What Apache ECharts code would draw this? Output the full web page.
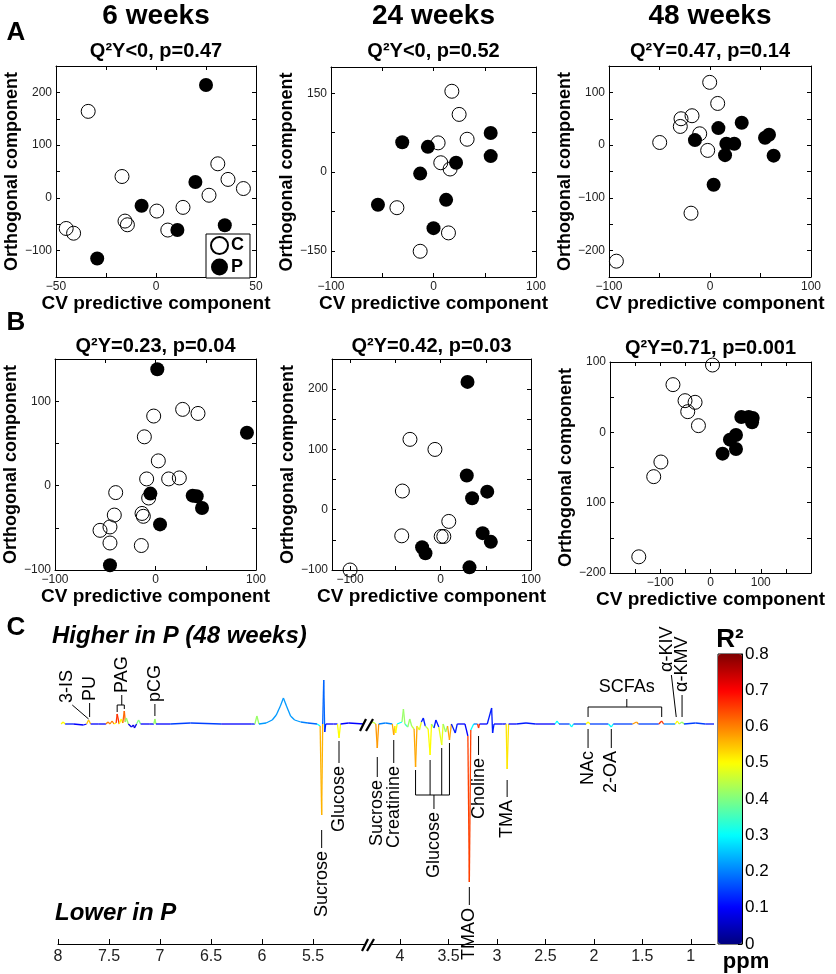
<!DOCTYPE html>
<html>
<head>
<meta charset="utf-8">
<script src="https://cdn.jsdelivr.net/npm/echarts@6/dist/echarts.min.js"></script>
<style>
html, body { margin: 0; padding: 0; background: #fff; }
#main { width: 836px; height: 974px; }
</style>
</head>
<body>
<div id="main"></div>
<script>
var FONT = '"Liberation Sans", Arial, Helvetica, sans-serif';

// ---- panel A/B scores: [CV predictive, orthogonal] ----
var a6C = [[-33.9,164],[-17,40.5],[-15.5,-44],[-14.3,-51],[-44.9,-58],[-41.2,-67],[0.4,-25],[13.5,-18],[5.9,-61],[30.9,64.6],[36,35],[43.7,17.7],[26.5,5]];
var a6P = [[25,214],[19.7,30],[-7.2,-15],[10.7,-61],[34.4,-52],[-29.4,-115]];
var a24C = [[17.9,153.8],[25,109.7],[32.8,62.4],[4.5,55.5],[7.1,17.6],[16.2,5.7],[-35.7,-68],[14.6,-116],[-13,-151]];
var a24P = [[55.8,74.4],[55.8,30.3],[-30.5,56.7],[-5.5,47.9],[22,17.6],[-13,-3],[-54.2,-62.4],[12.3,-53],[0,-107]];
var a48C = [[-0.3,119],[7.6,79],[-17.8,55.7],[-28.7,50],[-29.4,35.4],[-10.2,21.5],[-49.8,5],[-2.3,-10],[-18.8,-129],[-92.7,-220]];
var a48P = [[31.4,42.4],[8.3,32.3],[-14.9,9.5],[16.2,2.5],[24,2.5],[54.5,14],[58.4,19.6],[63,-20],[14.9,-19],[3.6,-75]];
var b6C = [[27,90.3],[42.3,85.5],[-1.8,82.4],[-11.1,57.8],[2.8,29.3],[-8.8,7.9],[13.1,7.9],[23.7,9.1],[-39.6,-8.3],[-6.8,-14.7],[-13.4,-33],[-12.1,-36.4],[-41,-34.9],[-55.2,-53],[-45.3,-49],[-45.3,-68],[-14.1,-71]];
var b6P = [[1.8,137.8],[91,62.6],[-5.1,-9.5],[37,-11.9],[41,-12.7],[46.3,-26.5],[4.5,-46],[-45.3,-94.3]];
var b24C = [[-33.8,116.7],[-6.2,100],[-42.2,31],[9.1,-19.4],[-42.9,-43.3],[0.7,-44.4],[3.6,-44.4],[-100,-100]];
var b24P = [[29.8,212],[29,56.7],[51.6,30],[34.9,18.9],[46.5,-38.9],[55.6,-53.3],[-20.4,-62.2],[-16.7,-72.2],[32,-95.6]];
var b48C = [[4,95.7],[-74.7,67.8],[-50.7,45],[-30.7,42.7],[-45.3,29.4],[-24,9.5],[-98.7,-42.2],[-113,-63],[-142.7,-177]];
var b48P = [[61.3,21.8],[76,21.8],[84,20.4],[82.7,14.2],[50.7,-3.8],[38.7,-10.4],[50.7,-23.7],[24,-30.3]];

var weekTitles = ['6 weeks', '24 weeks', '48 weeks'];
var subTitles = ['Q\u00b2Y<0, p=0.47', 'Q\u00b2Y<0, p=0.52', 'Q\u00b2Y=0.47, p=0.14',
                 'Q\u00b2Y=0.23, p=0.04', 'Q\u00b2Y=0.42, p=0.03', 'Q\u00b2Y=0.71, p=0.001'];

// axis limits / tick values per panel
var xLims = [[-50,50],[-100,100],[-100,100],[-100,100],[-120,100],[-200,200]];
var xLabels = [[-50,0,50],[-100,0,100],[-100,0,100],[-100,0,100],[-100,0,100],[-100,0,100]];
var xTicks = [[-50,-25,0,25,50],[-100,-50,0,50,100],[-100,-50,0,50,100],[-100,-50,0,50,100],[-100,-50,0,50,100],[-200,-150,-100,-50,0,50,100,150,200]];
var yLims = [[-150,250],[-200,200],[-250,150],[-100,150],[-100,250],[-200,100]];
var yLabels = [[-100,0,100,200],[-150,0,150],[-200,-100,0,100],[-100,0,100],[-100,0,100,200],[-200,-100,0,100]];
var yTicks = [[-150,-100,-50,0,50,100,150,200,250],[-150,-75,0,75,150],[-250,-200,-150,-100,-50,0,50,100,150],
              [-100,-50,0,50,100,150],[-100,-50,0,50,100,150,200,250],[-200,-150,-100,-50,0,50,100]];

// ---- panel C: spectrum points [ppm, intensity, R2] ----
var specLeft = [
  [7.97,0,0.12],[7.95,2,0.5],[7.93,0,0.15],[7.85,0,0.12],[7.75,-1,0.1],[7.72,0,0.15],[7.70,4,0.55],[7.68,0,0.2],
  [7.60,0,0.1],[7.53,0,0.2],[7.51,2,0.6],[7.49,0,0.3],[7.47,3,0.6],[7.45,0,0.3],[7.43,1,0.5],[7.42,10,0.66],
  [7.40,0,0.4],[7.38,5,0.5],[7.365,1,0.3],[7.35,13,0.62],[7.34,2,0.45],[7.33,6,0.42],[7.31,0,0.2],[7.28,-3,0.08],
  [7.26,-1,0.1],[7.25,-4,0.08],[7.23,0,0.15],[7.21,4,0.4],[7.19,0,0.2],[7.10,0,0.1],[7.06,0,0.2],[7.05,5,0.42],
  [7.04,0,0.2],[6.90,0,0.1],[6.70,1,0.15],[6.40,0,0.1],[6.10,0,0.12],[6.07,0,0.3],[6.05,8,0.42],[6.03,0,0.3],
  [5.96,1,0.22],[5.90,4,0.22],[5.86,9,0.22],[5.82,18,0.22],[5.79,26,0.22],[5.76,18,0.22],[5.72,8,0.22],[5.68,4,0.22],
  [5.62,2,0.2],[5.55,1,0.18],[5.46,0,0.15],[5.43,-2,0.3],[5.415,-91,0.56],[5.405,0,0.3],[5.395,44,0.18],[5.385,-8,0.12],
  [5.375,0,0.1],[5.30,0,0.1],[5.26,0,0.2],[5.245,-14,0.5],[5.23,0,0.2],[5.15,1,0.1],[5.00,0,0.1]
];
var specRight = [
  [4.31,0,0.15],[4.28,2,0.45],[4.25,0,0.2],[4.235,-24,0.58],[4.22,0,0.3],[4.15,1,0.2],[4.08,0,0.2],[4.065,-11,0.57],
  [4.055,-2,0.3],[4.045,-9,0.5],[4.03,0,0.2],[3.98,2,0.3],[3.965,15,0.42],[3.95,0,0.3],[3.92,-3,0.35],[3.90,5,0.42],
  [3.88,-2,0.4],[3.855,-5,0.45],[3.84,-43,0.57],[3.825,-2,0.4],[3.80,-6,0.48],[3.78,2,0.15],[3.76,6,0.12],[3.74,-2,0.3],
  [3.71,-5,0.45],[3.69,-31,0.5],[3.675,0,0.3],[3.65,-4,0.4],[3.63,4,0.12],[3.60,-3,0.42],[3.57,-21,0.48],[3.555,0,0.3],
  [3.53,-8,0.42],[3.51,-2,0.3],[3.49,-16,0.57],[3.47,0,0.2],[3.43,-9,0.12],[3.41,0,0.1],[3.33,0,0.1],[3.30,-12,0.1],
  [3.285,-158,0.65],[3.27,-6,0.3],[3.24,0,0.2],[3.20,0,0.3],[3.19,-4,0.66],[3.18,0,0.3],[3.10,0,0.1],[3.055,16,0.12],
  [3.045,-9,0.12],[3.03,0,0.1],[2.94,0,0.1],[2.905,0,0.3],[2.895,-45,0.52],[2.88,0,0.3],[2.80,0,0.1],[2.70,1,0.12],
  [2.60,0,0.1],[2.40,0,0.15],[2.38,3,0.3],[2.36,0,0.15],[2.25,0,0.15],[2.23,-3,0.3],[2.21,0,0.15],[2.08,0,0.2],
  [2.06,2,0.5],[2.04,0,0.2],[1.85,0,0.15],[1.82,-3,0.3],[1.80,0,0.15],[1.60,0,0.15],[1.56,2,0.58],[1.54,0,0.15],
  [1.33,0,0.2],[1.30,3,0.66],[1.28,0,0.2],[1.16,0,0.2],[1.14,3,0.5],[1.12,0,0.3],[1.09,2,0.42],[1.07,0,0.2],
  [0.95,1,0.15],[0.85,0,0.12],[0.76,0,0.12]
];
var ppmLeftTicks = [8, 7.5, 7, 6.5, 6, 5.5];
var ppmRightTicks = [4, 3.5, 3, 2.5, 2, 1.5, 1];
var r2Ticks = [0, 0.1, 0.2, 0.3, 0.4, 0.5, 0.6, 0.7, 0.8];

// metabolite annotations [ppm, intensity anchor, text, direction]
var labelsLeft = [
  [7.91,21,'3-IS','up'],[7.69,23,'PU','up'],[7.37,31,'PAG','up'],[7.05,22,'pCG','up'],
  [5.415,-127,'Sucrose','down'],[5.245,-42,'Glucose','down']
];
var labelsRight = [
  [4.235,-56,'Sucrose','down'],[4.065,-42,'Creatinine','down'],[3.65,-88,'Glucose','down'],
  [3.285,-184,'TMAO','down'],[3.19,-34,'Choline','down'],[2.895,-76,'TMA','down'],
  [2.06,-27,'NAc','down'],[1.82,-27,'2-OA','down'],[1.66,37,'SCFAs','flat'],
  [1.25,52,'\u03b1-KIV','up'],[1.09,32,'\u03b1-KMV','up']
];
// leader lines [ppm1, y1, ppm2, y2]
var leadersLeft = [
  [7.86,19,7.70,5],[7.69,21,7.69,7],
  [7.42,12,7.42,19],[7.42,19,7.35,19],[7.35,19,7.35,15],[7.375,19,7.375,29],
  [7.05,20,7.05,8],[5.415,-106,5.415,-124],[5.245,-17,5.245,-39]
];
var leadersRight = [
  [4.235,-33,4.235,-53],[4.065,-16,4.065,-39],
  [3.84,-46,3.84,-71],[3.69,-36,3.69,-71],[3.57,-24,3.57,-71],[3.49,-19,3.49,-71],[3.84,-71,3.49,-71],[3.65,-71,3.65,-85],
  [3.285,-163,3.285,-181],[3.19,-12,3.19,-31],[2.895,-56,2.895,-73],
  [2.06,-5,2.06,-24],[1.82,-5,1.82,-24],
  [2.06,7,2.06,17],[2.06,17,1.30,17],[1.30,17,1.30,7],[1.66,17,1.66,25],
  [1.20,49,1.15,7],[1.09,29,1.09,7]
];

var JET = ['#00007F','#0000FF','#0080FF','#00FFFF','#80FF80','#FFFF00','#FF8000','#FF0000','#7F0000'];

var boxes = [[56,66,200,211],[331,67,205,210],[609,66,202,211],[55,359,201,211],[332,359,199,211],[610,362,201,211]];
var cData = [a6C, a24C, a48C, b6C, b24C, b48C];
var pData = [a6P, a24P, a48P, b6P, b24P, b48P];

function minus(v) { return String(v).replace('-', '\u2212'); }

function toSegments(pts) {
  var out = [];
  for (var i = 0; i < pts.length - 1; i++) {
    var a = pts[i], b = pts[i + 1], r;
    if (Math.abs(a[1]) > Math.abs(b[1])) r = a[2];
    else if (Math.abs(b[1]) > Math.abs(a[1])) r = b[2];
    else r = Math.min(a[2], b[2]);
    out.push([a[0], a[1], b[0], b[1], r]);
  }
  return out;
}

function segRender(colored) {
  return function (params, api) {
    var p1 = api.coord([api.value(0), api.value(1)]);
    var p2 = api.coord([api.value(2), api.value(3)]);
    return {
      type: 'line',
      shape: { x1: p1[0], y1: p1[1], x2: p2[0], y2: p2[1] },
      style: { stroke: colored ? api.visual('color') : '#000', lineWidth: colored ? 1.3 : 1 }
    };
  };
}

function labelRender(list) {
  return function (params, api) {
    var l = list[params.dataIndex];
    var pt = api.coord([api.value(0), api.value(1)]);
    return {
      type: 'text', x: pt[0], y: pt[1],
      rotation: l[3] === 'flat' ? 0 : Math.PI / 2,
      style: {
        text: l[2], fill: '#000', font: '18px ' + FONT,
        align: l[3] === 'up' ? 'left' : (l[3] === 'down' ? 'right' : 'center'),
        verticalAlign: 'middle'
      }
    };
  };
}

var grids = [], xAxes = [], yAxes = [], series = [], graphics = [];
var tickStyle = { show: true, inside: true, length: 4, lineStyle: { color: '#000' } };
var lineStyle = { show: true, onZero: false, lineStyle: { color: '#000', width: 1 } };

boxes.forEach(function (b, i) {
  grids.push({ left: b[0], top: b[1], width: b[2], height: b[3] });
  xAxes.push({
    gridIndex: i, type: 'value', position: 'bottom', min: xLims[i][0], max: xLims[i][1],
    axisLine: lineStyle, splitLine: { show: false },
    axisTick: Object.assign({}, tickStyle, { customValues: xTicks[i] }),
    axisLabel: { customValues: xLabels[i], formatter: minus, fontSize: 12, color: '#222', margin: 4 },
    name: 'CV predictive component', nameLocation: 'middle', nameGap: 16,
    nameTextStyle: { fontSize: 19, fontWeight: 'bold', color: '#000' }
  });
  xAxes.push({
    gridIndex: i, type: 'value', position: 'top', min: xLims[i][0], max: xLims[i][1],
    axisLine: lineStyle, splitLine: { show: false },
    axisTick: Object.assign({}, tickStyle, { customValues: xTicks[i] }),
    axisLabel: { show: false }
  });
  yAxes.push({
    gridIndex: i, type: 'value', position: 'left', min: yLims[i][0], max: yLims[i][1],
    axisLine: lineStyle, splitLine: { show: false },
    axisTick: Object.assign({}, tickStyle, { customValues: yTicks[i] }),
    axisLabel: {
      customValues: yLabels[i], fontSize: 12, color: '#222', margin: 4,
      formatter: i === 5 ? function (v) { return v === -100 ? '100' : minus(v); } : minus
    },
    name: 'Orthogonal component', nameLocation: 'middle', nameGap: 33,
    nameTextStyle: { fontSize: 18, fontWeight: 'bold', color: '#000' }
  });
  yAxes.push({
    gridIndex: i, type: 'value', position: 'right', min: yLims[i][0], max: yLims[i][1],
    axisLine: lineStyle, splitLine: { show: false },
    axisTick: Object.assign({}, tickStyle, { customValues: yTicks[i] }),
    axisLabel: { show: false }
  });
  series.push({
    type: 'scatter', name: 'C', xAxisIndex: 2 * i, yAxisIndex: 2 * i, data: cData[i], symbolSize: 14,
    itemStyle: { color: 'rgba(255,255,255,0)', borderColor: '#000', borderWidth: 1, opacity: 1 }
  });
  series.push({
    type: 'scatter', name: 'P', xAxisIndex: 2 * i, yAxisIndex: 2 * i, data: pData[i], symbolSize: 14,
    itemStyle: { color: '#000', opacity: 1 }
  });
  graphics.push({
    type: 'text', x: b[0] + b[2] / 2, y: i < 3 ? 51 : (i === 5 ? 348 : 346),
    style: { text: subTitles[i], font: 'bold 20px ' + FONT, fill: '#000', align: 'center', verticalAlign: 'middle' }
  });
  if (i < 3) {
    graphics.push({
      type: 'text', x: b[0] + b[2] / 2, y: 16,
      style: { text: weekTitles[i], font: 'bold 28px ' + FONT, fill: '#000', align: 'center', verticalAlign: 'middle' }
    });
  }
});

// panel C grids: left segment, right segment, colorbar
grids.push({ left: 58, top: 640, width: 306, height: 304 });
grids.push({ left: 370, top: 640, width: 345, height: 304 });
grids.push({ left: 718, top: 654, width: 24, height: 290, show: true, borderColor: '#000', borderWidth: 1, backgroundColor: 'transparent' });

var ppmAxis = {
  type: 'value', inverse: true, position: 'bottom',
  axisLine: lineStyle, splitLine: { show: false },
  axisLabel: { fontSize: 16, color: '#222', margin: 5 }
};
xAxes.push(Object.assign({}, ppmAxis, {
  gridIndex: 6, min: 5.0, max: 8,
  axisTick: Object.assign({}, tickStyle, { length: 5, customValues: ppmLeftTicks }),
  axisLabel: Object.assign({}, ppmAxis.axisLabel, { customValues: ppmLeftTicks })
}));
xAxes.push(Object.assign({}, ppmAxis, {
  gridIndex: 7, min: 0.75, max: 4.31,
  axisTick: Object.assign({}, tickStyle, { length: 5, customValues: ppmRightTicks }),
  axisLabel: Object.assign({}, ppmAxis.axisLabel, { customValues: ppmRightTicks })
}));
xAxes.push({ gridIndex: 8, type: 'value', min: 0, max: 1, show: false });
yAxes.push({ gridIndex: 6, type: 'value', min: -220, max: 84, show: false });
yAxes.push({ gridIndex: 7, type: 'value', min: -220, max: 84, show: false });
yAxes.push({
  gridIndex: 8, type: 'value', position: 'right', min: 0, max: 0.8,
  axisLine: lineStyle, splitLine: { show: false },
  axisTick: Object.assign({}, tickStyle, { customValues: r2Ticks }),
  axisLabel: { customValues: r2Ticks, fontSize: 17, color: '#000', margin: 3 }
});

var specStart = series.length;
series.push({ type: 'custom', xAxisIndex: 12, yAxisIndex: 12, data: toSegments(specLeft),
  encode: { x: [0, 2], y: [1, 3] }, renderItem: segRender(true), z: 3 });
series.push({ type: 'custom', xAxisIndex: 13, yAxisIndex: 13, data: toSegments(specRight),
  encode: { x: [0, 2], y: [1, 3] }, renderItem: segRender(true), z: 3 });
series.push({ type: 'custom', xAxisIndex: 12, yAxisIndex: 12, data: leadersLeft,
  encode: { x: [0, 2], y: [1, 3] }, renderItem: segRender(false) });
series.push({ type: 'custom', xAxisIndex: 13, yAxisIndex: 13, data: leadersRight,
  encode: { x: [0, 2], y: [1, 3] }, renderItem: segRender(false) });
series.push({ type: 'custom', xAxisIndex: 12, yAxisIndex: 12,
  data: labelsLeft.map(function (l) { return [l[0], l[1]]; }), renderItem: labelRender(labelsLeft) });
series.push({ type: 'custom', xAxisIndex: 13, yAxisIndex: 13,
  data: labelsRight.map(function (l) { return [l[0], l[1]]; }), renderItem: labelRender(labelsRight) });
series.push({ type: 'scatter', xAxisIndex: 14, yAxisIndex: 14, data: [] });

// static texts and axis-break marks
[['A', 16, 33], ['B', 16, 323], ['C', 16, 628]].forEach(function (t) {
  graphics.push({ type: 'text', x: t[1], y: t[2],
    style: { text: t[0], font: 'bold 26px ' + FONT, fill: '#000', align: 'center', verticalAlign: 'middle' } });
});
graphics.push({ type: 'text', x: 52, y: 636,
  style: { text: 'Higher in P (48 weeks)', font: 'italic bold 24px ' + FONT, fill: '#000', align: 'left', verticalAlign: 'middle' } });
graphics.push({ type: 'text', x: 55, y: 913,
  style: { text: 'Lower in P', font: 'italic bold 24px ' + FONT, fill: '#000', align: 'left', verticalAlign: 'middle' } });
graphics.push({ type: 'text', x: 746, y: 962,
  style: { text: 'ppm', font: 'bold 22px ' + FONT, fill: '#000', align: 'center', verticalAlign: 'middle' } });
graphics.push({ type: 'text', x: 730, y: 640,
  style: { text: 'R\u00b2', font: 'bold 26px ' + FONT, fill: '#000', align: 'center', verticalAlign: 'middle' } });
[[360, 731, 366, 719], [366, 731, 373, 719], [362, 951, 368, 939], [367, 951, 374, 939]].forEach(function (s) {
  graphics.push({ type: 'line', shape: { x1: s[0], y1: s[1], x2: s[2], y2: s[3] },
    style: { stroke: '#000', lineWidth: 2.2 }, z: 10 });
});

var chart = echarts.init(document.getElementById('main'));
chart.setOption({
  animation: false,
  backgroundColor: '#fff',
  textStyle: { fontFamily: FONT },
  grid: grids,
  xAxis: xAxes,
  yAxis: yAxes,
  legend: {
    data: ['C', 'P'], orient: 'vertical', left: 206, top: 234, itemGap: 3,
    itemWidth: 17, itemHeight: 17, padding: [2, 6, 2, 4], selectedMode: false,
    borderColor: '#000', borderWidth: 1, backgroundColor: '#fff',
    textStyle: { fontSize: 18, fontWeight: 'bold', color: '#000', padding: [0, 0, 0, -2] }
  },
  visualMap: {
    type: 'continuous', min: 0, max: 0.8, dimension: 4,
    seriesIndex: [specStart, specStart + 1],
    inRange: { color: JET },
    left: 718, top: 654, itemWidth: 24, itemHeight: 290, padding: 0,
    calculable: false, hoverLink: false, realtime: false
  },
  graphic: graphics,
  series: series
});
</script>
</body>
</html>
